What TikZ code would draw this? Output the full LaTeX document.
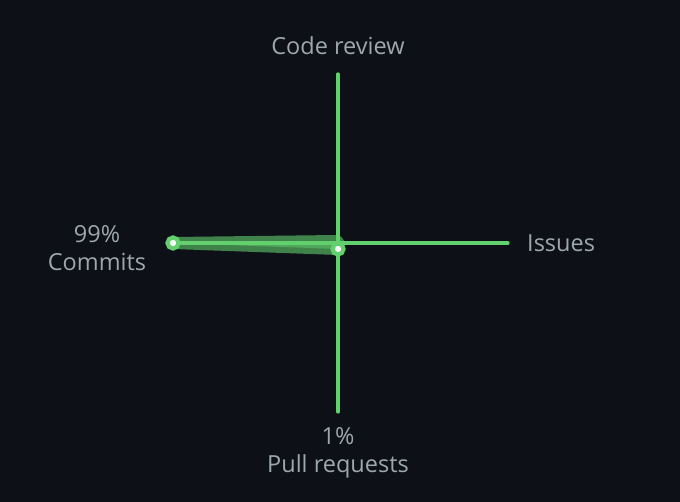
\documentclass[tikz,border=0pt]{standalone}
\usepackage{fontspec}
\setmainfont{Open Sans}
\definecolor{bg}{HTML}{0D1117}
\definecolor{axisgreen}{HTML}{62D06C}
\definecolor{lbl}{HTML}{9EA6AF}
\begin{document}
\begin{tikzpicture}[x=1pt,y=-1pt,
  axis/.style={draw=axisgreen,line width=3.2pt},
  lab/.style={text=lbl,font=\fontsize{23.5}{28}\selectfont,align=center,inner sep=0pt},
  dot/.style={circle,fill=white,draw=axisgreen,line width=4.2pt,minimum size=11pt,inner sep=0pt}]
\fill[bg] (0,0) rectangle (680,502);
\useasboundingbox (0,0) rectangle (680,502);
% axes
\coordinate (c) at (338,243);
\coordinate (top) at (338,74);
\coordinate (bot) at (338,412);
\coordinate (left) at (171,243);
\coordinate (right) at (508,243);
% polygon
\coordinate (pc) at (173,243);
\coordinate (pcr) at (337,241);
\coordinate (pis) at (339,244);
\coordinate (ppr) at (338,249);
\filldraw[fill=axisgreen,fill opacity=0.5,draw=axisgreen,draw opacity=0.6,line width=12pt,line join=round]
  (pc) -- (pcr) -- (pis) -- (ppr) -- cycle;
\draw[axis,line cap=round] (top) -- (bot);
\draw[axis,line cap=round] (left) -- (right);
\node[dot] (d1) at (pc) {};
\node[dot] (d2) at (ppr) {};
% labels
\node[lab] (cr) at (338,46) {Code review};
\node[lab,anchor=west] (is) at (527,243) {Issues};
\node[lab] (cm) at (97,248) {99\%\\Commits};
\node[lab] (pr) at (338,453) {1\%\\Pull requests};
\end{tikzpicture}
\end{document}
